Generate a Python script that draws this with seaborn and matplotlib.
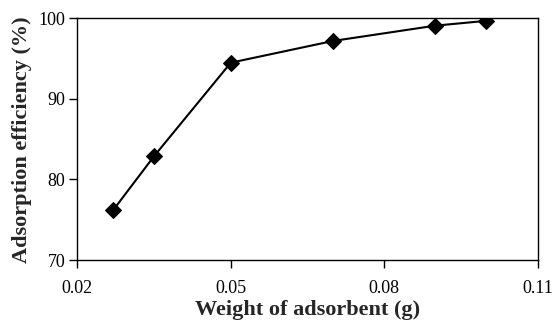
import pandas as pd
import matplotlib
matplotlib.use("Agg")
import matplotlib.pyplot as plt
import seaborn as sns

# data
weight = [0.027, 0.035, 0.05, 0.07, 0.09, 0.10]
efficiency = [76.2, 82.9, 94.5, 97.2, 99.1, 99.7]
x_ticks = [0.02, 0.05, 0.08, 0.11]
x_labels = ["0.02", "0.05", "0.08", "0.11"]
y_ticks = [70, 80, 90, 100]

df = pd.DataFrame({"weight": weight, "efficiency": efficiency})

sns.set_style("ticks")
plt.rcParams["font.family"] = ["Liberation Serif", "DejaVu Serif"]

fig = plt.figure(figsize=(5.53, 3.23), dpi=100)
ax = fig.add_axes([0.140, 0.195, 0.832, 0.748])

sns.lineplot(x="weight", y="efficiency", data=df, ax=ax, color="black",
             linewidth=1.5, marker="D", markersize=8, markeredgecolor="black",
             markerfacecolor="black")

ax.set_xlim(0.02, 0.11)
ax.set_ylim(70, 100)
ax.set_xticks(x_ticks)
ax.set_xticklabels(x_labels)
ax.set_yticks(y_ticks)
ax.tick_params(direction="out", length=5.5, width=1.0, labelsize=13,
               colors="black")
ax.tick_params(axis="x", pad=9)
ax.tick_params(axis="y", pad=3)
for s in ax.spines.values():
    s.set_visible(True)
    s.set_linewidth(1.0)
    s.set_color("black")

ax.set_xlabel("Weight of adsorbent (g)", fontsize=16, fontweight="bold", labelpad=2)
ax.set_ylabel("Adsorption efficiency (%)", fontsize=16, fontweight="bold", labelpad=5)

fig.savefig("out.png", dpi=100)
